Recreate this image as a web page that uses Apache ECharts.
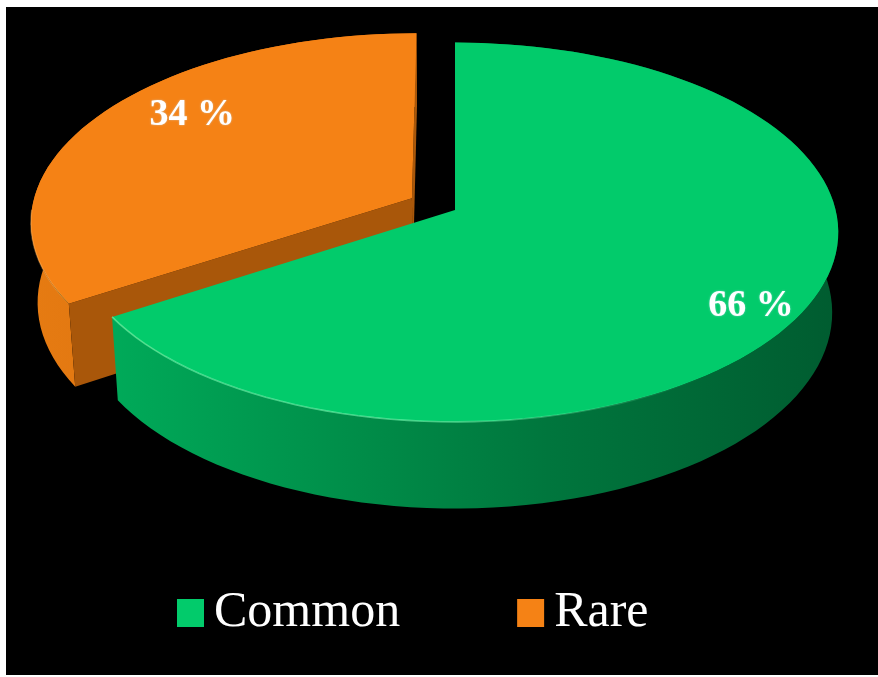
<!DOCTYPE html>
<html>
<head>
<meta charset="utf-8">
<script src="https://cdn.jsdelivr.net/npm/echarts@6/dist/echarts.min.js"></script>
<style>
  html, body { margin: 0; padding: 0; background: #ffffff; }
  #chart { position: absolute; left: 6px; top: 7px; width: 872px; height: 668px; background: #000000; }
</style>
</head>
<body>
<div id="chart"></div>
<script>
// Slice data
const categories = ['Common', 'Rare'];
const shares = [66, 34];
const valueLabels = ['66 %', '34 %'];
const explodeAmount = [0, 0.13];

// Styling
const palette = {
  top: ['#02cb6b', '#f58215'],
  side: [
    [[0, '#00aa59'], [0.35, '#008c48'], [0.6, '#00763d'], [1, '#005c30']],
    [[0, '#e67b12'], [1, '#cf690c']]
  ],
  cut: ['#00703a', '#a9570a'],
  rimGlow: ['rgba(120,255,180,0.6)', 'rgba(255,190,110,0.35)']
};
// label position inside each slice: [fraction of sweep, radius]
const labelPlace = [[0.52, 0.88], [0.57, 0.78]];

// Perspective view of a flat disc (unit radius) lying on a table
const VIEW = { cx: 449, apexY: 203, elev: 30, dist: 7.5, fx: 2810, fy: 2900, thick: 0.235, steps: 160 };
const SE = Math.sin(VIEW.elev * Math.PI / 180);
const CE = Math.cos(VIEW.elev * Math.PI / 180);
const CY = VIEW.apexY + VIEW.fy * (VIEW.thick * CE) / (VIEW.dist - VIEW.thick * SE);
const CAM = [0, -VIEW.dist * CE, VIEW.dist * SE];

function project(X, Y, Z) {
  const yc = Y * SE + Z * CE;
  const depth = VIEW.dist + Y * CE - Z * SE;
  return [VIEW.cx + VIEW.fx * X / depth, CY - VIEW.fy * yc / depth];
}

// Angular extent of each slice, clockwise from 12 o'clock
const total = shares.reduce((a, b) => a + b, 0);
const slices = [];
(function () {
  let start = 90;
  shares.forEach((v, i) => {
    const sweep = v / total * 360;
    const a0 = start, a1 = start - sweep;
    const mid = (a0 + a1) / 2 * Math.PI / 180;
    slices.push({
      a0: a0 * Math.PI / 180,
      a1: a1 * Math.PI / 180,
      ox: explodeAmount[i] * Math.cos(mid),
      oy: explodeAmount[i] * Math.sin(mid)
    });
    start = a1;
  });
})();

function rimPoints(s, z, from, to) {
  const pts = [];
  const n = Math.max(2, Math.ceil(Math.abs(to - from) / (2 * Math.PI) * VIEW.steps));
  for (let k = 0; k <= n; k++) {
    const a = from + (to - from) * k / n;
    pts.push(project(s.ox + Math.cos(a), s.oy + Math.sin(a), z));
  }
  return pts;
}

function cutFace(s, a) {
  const h = VIEW.thick;
  return [
    project(s.ox, s.oy, h),
    project(s.ox + Math.cos(a), s.oy + Math.sin(a), h),
    project(s.ox + Math.cos(a), s.oy + Math.sin(a), 0),
    project(s.ox, s.oy, 0)
  ];
}

// a radial wall faces the camera when its outward normal points toward it
function wallFacesViewer(s, normalAngle) {
  const nx = Math.cos(normalAngle), ny = Math.sin(normalAngle);
  return nx * (CAM[0] - s.ox) + ny * (CAM[1] - s.oy) > 1e-6;
}

function renderSlice(params, api) {
  const i = params.seriesIndex;
  const s = slices[i];
  const h = VIEW.thick;
  const children = [];

  // outer wall
  const topArc = rimPoints(s, h, s.a0, s.a1);
  const botArc = rimPoints(s, 0, s.a1, s.a0);
  children.push({
    type: 'polygon',
    shape: { points: topArc.concat(botArc) },
    style: {
      fill: new echarts.graphic.LinearGradient(0, 0, 1, 0,
        palette.side[i].map(([o, c]) => ({ offset: o, color: c })))
    }
  });

  // radial cut faces (only those turned toward the viewer)
  [[s.a0, s.a0 + Math.PI / 2], [s.a1, s.a1 - Math.PI / 2]].forEach(([a, na]) => {
    if (!wallFacesViewer(s, na)) return;
    children.push({
      type: 'polygon',
      shape: { points: cutFace(s, a) },
      style: { fill: palette.cut[i] }
    });
  });

  // top face
  const apex = project(s.ox, s.oy, h);
  children.push({
    type: 'polygon',
    shape: { points: [apex].concat(topArc) },
    style: { fill: palette.top[i] }
  });

  // soft highlight along the near rim, fading to the right
  const nearFrom = Math.max(s.a1, -Math.PI * 0.98);
  const nearTo = Math.min(s.a0, -Math.PI * 0.3);
  if (nearTo > nearFrom) {
    children.push({
      type: 'polyline',
      shape: { points: rimPoints(s, h, nearFrom, nearTo) },
      style: {
        stroke: new echarts.graphic.LinearGradient(0, 0, 1, 0, [
          { offset: 0, color: palette.rimGlow[i] },
          { offset: 0.55, color: palette.rimGlow[i] },
          { offset: 1, color: 'rgba(120,255,180,0)' }
        ]),
        lineWidth: 1.6,
        fill: null
      }
    });
  }

  // value label
  const [frac, r] = labelPlace[i];
  const la = s.a0 + (s.a1 - s.a0) * frac;
  const lp = project(s.ox + r * Math.cos(la), s.oy + r * Math.sin(la), h);
  children.push({
    type: 'text',
    style: {
      text: valueLabels[i],
      x: lp[0],
      y: lp[1],
      fill: '#ffffff',
      fontFamily: '"Liberation Serif", "Times New Roman", serif',
      fontWeight: 'bold',
      fontSize: 38,
      align: 'center',
      verticalAlign: 'middle',
      textShadowColor: 'rgba(200,230,255,0.6)',
      textShadowBlur: 2
    }
  });

  return { type: 'group', children };
}

const chart = echarts.init(document.getElementById('chart'), null, { renderer: 'canvas' });
chart.setOption({
  backgroundColor: '#000000',
  animation: false,
  legend: {
    data: categories,
    left: 166,
    top: 576,
    icon: 'rect',
    itemWidth: 27,
    itemHeight: 28,
    itemGap: 117,
    selectedMode: false,
    textStyle: {
      color: '#ffffff',
      fontFamily: '"Liberation Serif", "Times New Roman", serif',
      fontSize: 50,
      padding: [0, 0, 0, 5]
    }
  },
  series: categories.map((name, i) => ({
    type: 'custom',
    name,
    coordinateSystem: 'none',
    renderItem: renderSlice,
    data: [[shares[i]]],
    itemStyle: { color: palette.top[i] },
    z: i === 0 ? 3 : 2,
    silent: true,
    animation: false
  }))
});
</script>
</body>
</html>
